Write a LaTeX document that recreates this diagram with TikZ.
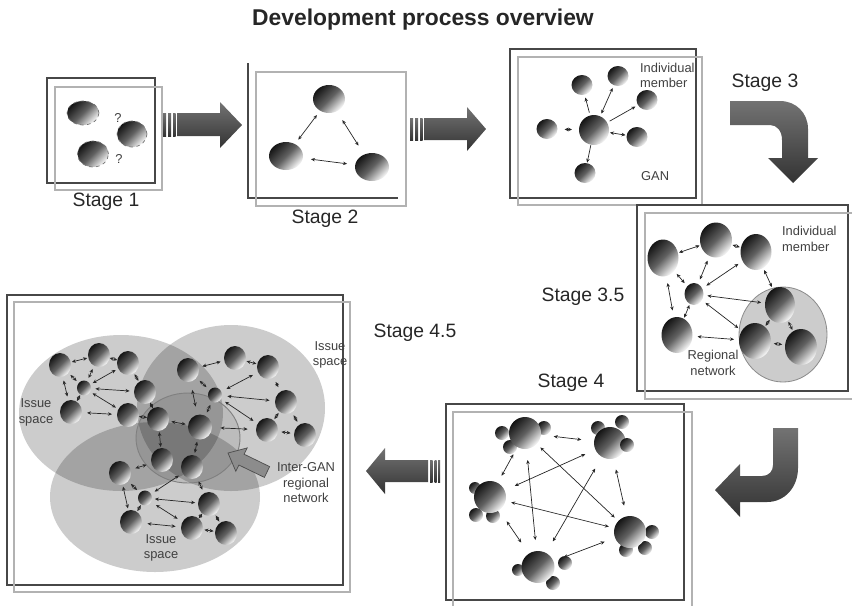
\documentclass[tikz,border=0pt]{standalone}
\usepackage{fontspec}
\setmainfont{Liberation Sans}
\usepackage{tikz}
\usetikzlibrary{arrows.meta,shapes.geometric}

\tikzset{
  >={Stealth[length=3.4pt,width=3pt]},
  ball/.style 2 args={ellipse,inner sep=0pt,outer sep=0pt,minimum width=#1*0.06cm,minimum height=#2*0.06cm,top color=black!92,bottom color=black!2,middle color=black!62,shading angle=45},
  dashball/.style={draw=black!55,dashed,line width=0.6pt},
  link/.style={<->,draw=black!85,line width=0.6pt},
  gaps/.style={shorten <=#1pt,shorten >=#1pt},
  darkframe/.style={draw=black!72,line width=1pt},
  lightframe/.style={draw=black!30,line width=1pt},
  stagelabel/.style={font=\fontsize{16.5}{19}\selectfont,text=black!85},
  note/.style={font=\fontsize{11}{13.2}\selectfont,text=black!75,align=center},
  bigarrow/.style={top color=black!55,bottom color=black!80},
  issue/.style={fill=black,fill opacity=0.2},
}

\begin{document}
\begin{tikzpicture}[x=0.03cm,y=-0.03cm]
	\useasboundingbox (0,0) rectangle (852,605);
	\node[font=\bfseries\fontsize{19.5}{23}\selectfont,text=black!85] (title) at (423,20) {Development process overview};

	% stage 1
	\draw[darkframe] (47,78) rectangle (155,183);
	\draw[lightframe] (55,87) rectangle (162,190);
	\node[ball={16}{12},dashball] (s1a) at (83,113) {};
	\node[ball={15}{13},dashball] (s1b) at (132,134) {};
	\node[ball={15.5}{13},dashball] (s1c) at (93,154) {};
	\node[note] (s1q1) at (118,118) {?};
	\node[note] (s1q2) at (119,159) {?};
	\node[stagelabel] (st1) at (106,202) {Stage 1};

	\shade[bigarrow] (177,113) -- (220,113) -- (220,102) -- (242,125) -- (220,148) -- (220,136) -- (177,136) -- cycle;
	\shade[bigarrow] (163,113) rectangle (166,136);
	\shade[bigarrow] (168,113) rectangle (171,136);
	\shade[bigarrow] (173,113) rectangle (175.5,136);

	% stage 2
	\draw[darkframe] (248,63) -- (248,198) -- (398,198);
	\draw[lightframe] (256,72) rectangle (406,206);
	\node[ball={16}{14}] (s2t) at (329,99) {};
	\node[ball={17}{14}] (s2l) at (286,156) {};
	\node[ball={17}{14}] (s2r) at (372,167) {};
	\draw[link,gaps=4.7] (s2t) -- (s2l);
	\draw[link,gaps=9] (s2t) -- (s2r);
	\draw[link,gaps=7] (s2l) -- (s2r);
	\node[stagelabel] (st2) at (325,219) {Stage 2};

	\shade[bigarrow] (424,118) -- (467,118) -- (467,107) -- (486,129) -- (467,151) -- (467,140) -- (424,140) -- cycle;
	\shade[bigarrow] (410,118) rectangle (413,140);
	\shade[bigarrow] (415,118) rectangle (418,140);
	\shade[bigarrow] (420,118) rectangle (422.5,140);

	% stage 3
	\draw[darkframe] (510,49) rectangle (696,198);
	\draw[lightframe] (518,57) rectangle (702,205);
	\node[ball={15}{15}] (s3c) at (594,130) {};
	\node[ball={10.5}{10}] (s3tl) at (582,85) {};
	\node[ball={10.5}{10}] (s3t) at (618,76) {};
	\node[ball={10.5}{10}] (s3rt) at (647,100) {};
	\node[ball={10.5}{10}] (s3r) at (637,137) {};
	\node[ball={10.5}{10}] (s3l) at (547,129) {};
	\node[ball={10.5}{10}] (s3b) at (585,173) {};
	\draw[link,-{>},gaps=2.5] (s3c) -- (s3tl);
	\draw[link,gaps=2.5] (s3c) -- (s3t);
	\draw[link,-{>},gaps=2.5] (s3c) -- (s3rt);
	\draw[link,gaps=1] (s3c) -- (s3r);
	\draw[link,gaps=6] (s3c) -- (s3l);
	\draw[link,-{>},gaps=0.5] (s3c) -- (s3b);
	\node[note,align=left,anchor=west] (s3ind) at (636,75.5) {Individual\\member};
	\node[note,anchor=west] (s3gan) at (637,176) {GAN};
	\node[stagelabel] (st3) at (765,83) {Stage 3};

	\shade[bigarrow] (730,101) -- (780,101) .. controls (796,101) and (808,113) .. (808,129) -- (808,158) -- (818,158) -- (793,183) -- (768,158) -- (782,158) -- (782,140) .. controls (782,131) and (777,125) .. (770,125) -- (730,125) -- cycle;

	% stage 3.5
	\draw[darkframe] (637,205) rectangle (848,391);
	\draw[lightframe] (645,213) rectangle (854,399);
	\draw[draw=black!45,fill=black!20,line width=0.7pt] (783,334.5) ellipse [x radius=44,y radius=47.5];
	\node[ball={15.5}{18.5}] (s35a) at (663,258) {};
	\node[ball={16}{17.5}] (s35b) at (716,240) {};
	\node[ball={15.5}{18}] (s35c) at (756,252) {};
	\node[ball={9.5}{11}] (s35d) at (694,294) {};
	\node[ball={15.5}{18}] (s35e) at (677,335) {};
	\node[ball={15}{18}] (s35f) at (780,305) {};
	\node[ball={16}{18}] (s35g) at (755,341) {};
	\node[ball={16}{18}] (s35h) at (801,347) {};
	\draw[link,gaps=1] (s35a) -- (s35b);
	\draw[link,gaps=1] (s35b) -- (s35c);
	\draw[link,gaps=6] (s35a) -- (s35e);
	\draw[link,gaps=3.4] (s35d) -- (s35a);
	\draw[link,gaps=4.3] (s35d) -- (s35b);
	\draw[link,gaps=4.3] (s35d) -- (s35c);
	\draw[link,gaps=2] (s35c) -- (s35f);
	\draw[link,gaps=3.4] (s35d) -- (s35f);
	\draw[link,gaps=3.8] (s35d) -- (s35g);
	\draw[link,gaps=1] (s35d) -- (s35e);
	\draw[link,gaps=4.3] (s35e) -- (s35g);
	\draw[link,gaps=1] (s35f) -- (s35g);
	\draw[link,gaps=1.3] (s35f) -- (s35h);
	\draw[link,gaps=2.5] (s35g) -- (s35h);
	\node[note,align=left,anchor=west] (s35ind) at (778,239) {Individual\\member};
	\node[note] (s35reg) at (713,363) {Regional\\network};
	\node[stagelabel] (st35) at (583,297) {Stage 3.5};

	\shade[bigarrow] (798,428) -- (798,468) .. controls (798,487) and (785,502) .. (767,502) -- (740,502) -- (740,517) -- (715,490) -- (740,464) -- (740,476) -- (762,476) .. controls (769,476) and (773,471) .. (773,465) -- (773,428) -- cycle;

	% stage 4
	\draw[darkframe] (446,404) rectangle (684,600);
	\draw[lightframe] (453,412) rectangle (692,610);
	\node[ball={7}{7}] (s4a1) at (502,433) {};
	\node[ball={7}{7}] (s4a2) at (544,428) {};
	\node[ball={7}{7}] (s4a3) at (510,447) {};
	\node[ball={16}{16}] (s4a) at (525,433) {};
	\node[ball={7}{7}] (s4b1) at (622,422) {};
	\node[ball={7}{7}] (s4b2) at (598,428) {};
	\node[ball={16}{16}] (s4b) at (610,443) {};
	\node[ball={7}{7}] (s4b3) at (627,445) {};
	\node[ball={6}{6}] (s4c1) at (475,488) {};
	\node[ball={7}{7}] (s4c2) at (476,515) {};
	\node[ball={7}{7}] (s4c3) at (493,516) {};
	\node[ball={16}{16}] (s4c) at (490,497) {};
	\node[ball={7}{7}] (s4d1) at (652,532) {};
	\node[ball={7}{7}] (s4d2) at (645,548) {};
	\node[ball={7}{7}] (s4d3) at (626,550) {};
	\node[ball={16}{16}] (s4d) at (630,532) {};
	\node[ball={6}{6}] (s4e1) at (518,570) {};
	\node[ball={7}{7}] (s4e2) at (565,563) {};
	\node[ball={7}{7}] (s4e3) at (553,583) {};
	\node[ball={16.5}{16}] (s4e) at (538,567) {};
	\draw[link,gaps=11] (s4a) -- (s4b);
	\draw[link,gaps=7] (s4a) -- (s4c);
	\draw[link,gaps=4.3] (s4a) -- (s4d);
	\draw[link,gaps=9.5] (s4a) -- (s4e);
	\draw[link,gaps=9.5] (s4b) -- (s4c);
	\draw[link,gaps=9.5] (s4b) -- (s4d);
	\draw[link,gaps=11.5] (s4b) -- (s4e);
	\draw[link,gaps=5] (s4c) -- (s4d);
	\draw[link,gaps=11.5] (s4c) -- (s4e);
	\draw[link,gaps=9.5] (s4d) -- (s4e);
	\node[stagelabel] (st4) at (571,383) {Stage 4};

	\shade[bigarrow] (366,471) -- (385,448) -- (385,460) -- (428,460) -- (428,482) -- (385,482) -- (385,494) -- cycle;
	\shade[bigarrow] (430,460) rectangle (432.5,482);
	\shade[bigarrow] (434.5,460) rectangle (436.5,482);
	\shade[bigarrow] (438,460) rectangle (440,482);

	% stage 4.5
	\draw[darkframe] (7,295) rectangle (343,585);
	\draw[lightframe] (14,302) rectangle (350,592);
	\fill[issue] (121,413) ellipse [x radius=102,y radius=78];
	\fill[issue] (231,408) ellipse [x radius=94,y radius=83];
	\fill[issue] (155,497) ellipse [x radius=105,y radius=75];
	\draw[draw=black!50,line width=0.8pt,fill=black,fill opacity=0.08] (188,438) ellipse [x radius=52,y radius=45];
	\node[ball={11}{12}] (s45l1) at (60,365) {};
	\node[ball={11}{12}] (s45l2) at (99,355) {};
	\node[ball={11}{12}] (s45l3) at (128,363) {};
	\node[ball={7}{7.5}] (s45l4) at (84,388) {};
	\node[ball={11}{12}] (s45l5) at (71,412) {};
	\node[ball={11}{12}] (s45l6) at (145,392) {};
	\node[ball={11}{12}] (s45l7) at (128,415) {};
	\node[ball={11}{12}] (s45m1) at (158,419) {};
	\node[ball={12}{12.5}] (s45m2) at (200,427) {};
	\node[ball={11}{12}] (s45m3) at (162,460) {};
	\node[ball={11}{12}] (s45m4) at (192,467) {};
	\node[ball={11}{12}] (s45r1) at (188,370) {};
	\node[ball={11}{12}] (s45r2) at (235,358) {};
	\node[ball={11}{12}] (s45r3) at (268,367) {};
	\node[ball={7}{7.5}] (s45r4) at (215,395) {};
	\node[ball={11}{12}] (s45r5) at (286,402) {};
	\node[ball={11}{12}] (s45r6) at (267,430) {};
	\node[ball={11}{12}] (s45r7) at (305,435) {};
	\node[ball={11}{12}] (s45b1) at (120,473) {};
	\node[ball={7}{7.5}] (s45b2) at (145,498) {};
	\node[ball={11}{12}] (s45b3) at (131,522) {};
	\node[ball={11}{12}] (s45b4) at (209,504) {};
	\node[ball={11}{12}] (s45b5) at (192,528) {};
	\node[ball={11}{12}] (s45b6) at (226,533) {};
	\draw[link,gaps=1] (s45l1) -- (s45l2);
	\draw[link,gaps=0] (s45l2) -- (s45l3);
	\draw[link,gaps=3.4] (s45l1) -- (s45l5);
	\draw[link,gaps=2.5] (s45l4) -- (s45l1);
	\draw[link,gaps=3] (s45l4) -- (s45l2);
	\draw[link,gaps=2.5] (s45l4) -- (s45l3);
	\draw[link,gaps=0.5] (s45l4) -- (s45l5);
	\draw[link,gaps=3.8] (s45l4) -- (s45l6);
	\draw[link,gaps=2.5] (s45l4) -- (s45l7);
	\draw[link,gaps=4.3] (s45l5) -- (s45l7);
	\draw[link,gaps=1] (s45l3) -- (s45l6);
	\draw[link,gaps=0] (s45l6) -- (s45m1);
	\draw[link,gaps=0] (s45l7) -- (s45m1);
	\draw[link,gaps=2.2] (s45m1) -- (s45m2);
	\draw[link,gaps=1] (s45m1) -- (s45m3);
	\draw[link,gaps=2.1] (s45m2) -- (s45m4);
	\draw[link,gaps=7.2] (s45r1) -- (s45m2);
	\draw[link,gaps=3] (s45r4) -- (s45m2);
	\draw[link,gaps=7.2] (s45m2) -- (s45r6);
	\draw[link,gaps=3.2] (s45r1) -- (s45r2);
	\draw[link,gaps=0.8] (s45r2) -- (s45r3);
	\draw[link,gaps=3.8] (s45r4) -- (s45r1);
	\draw[link,gaps=5] (s45r4) -- (s45r3);
	\draw[link,gaps=4.7] (s45r4) -- (s45r5);
	\draw[link,gaps=4.3] (s45r4) -- (s45r6);
	\draw[link,gaps=4.3] (s45r3) -- (s45r5);
	\draw[link,gaps=1.3] (s45r5) -- (s45r6);
	\draw[link,gaps=3] (s45r6) -- (s45r7);
	\draw[link,gaps=3] (s45r5) -- (s45r7);
	\draw[link,gaps=4.3] (s45b1) -- (s45m3);
	\draw[link,gaps=3.4] (s45b2) -- (s45b1);
	\draw[link,gaps=1.7] (s45b1) -- (s45b3);
	\draw[link,gaps=0.8] (s45b2) -- (s45b3);
	\draw[link,gaps=3.8] (s45b2) -- (s45m4);
	\draw[link,gaps=3.4] (s45m4) -- (s45b4);
	\draw[link,gaps=2.5] (s45b2) -- (s45b4);
	\draw[link,gaps=5] (s45b2) -- (s45b5);
	\draw[link,gaps=4.7] (s45b3) -- (s45b5);
	\draw[link,gaps=0] (s45b4) -- (s45b5);
	\draw[link,gaps=1.3] (s45b4) -- (s45b6);
	\draw[link,gaps=1.3] (s45b5) -- (s45b6);
	\draw[draw=black!70,fill=black!45,line width=0.6pt] (264.4,477.4) -- (238.9,465) -- (235.8,471.3) -- (228,453) -- (247.2,447.9) -- (244.1,454.2) -- (269.6,466.6) -- cycle;
	\node[note] (s45iss1) at (36,412.5) {Issue\\space};
	\node[note] (s45iss2) at (330,355) {Issue\\space};
	\node[note] (s45iss3) at (161,548) {Issue\\space};
	\node[note] (s45inter) at (306,483) {Inter-GAN\\regional\\network};
	\node[stagelabel] (st45) at (415,333) {Stage 4.5};
\end{tikzpicture}
\end{document}
